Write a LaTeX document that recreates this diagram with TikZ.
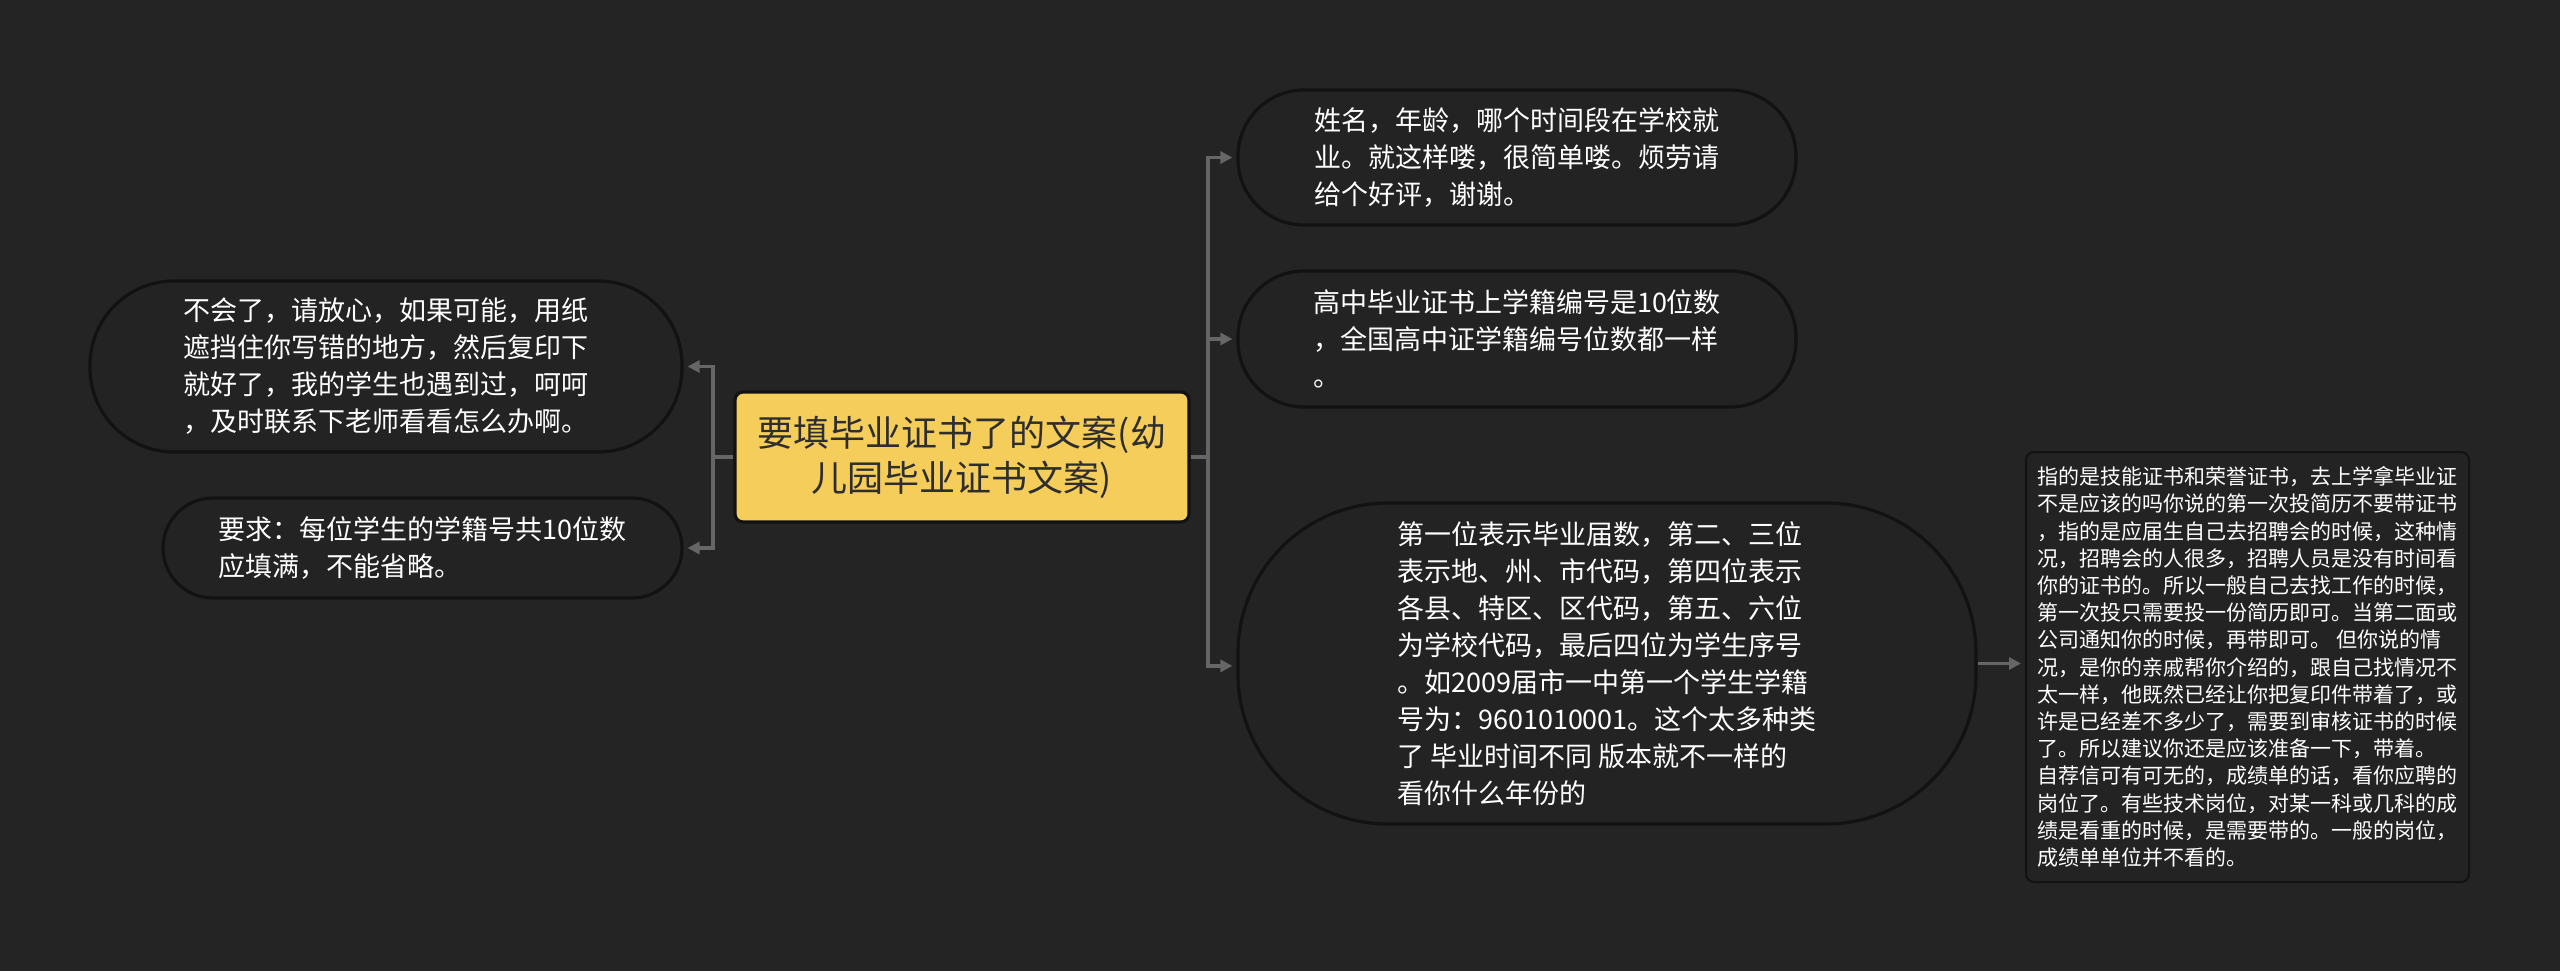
\documentclass[tikz,border=0pt]{standalone}
\usepackage{fontspec}
\newfontfamily\cjk{Noto Sans CJK SC}
\usetikzlibrary{arrows.meta}
\definecolor{bg}{HTML}{242424}
\definecolor{nodefill}{HTML}{232323}
\definecolor{nodeborder}{HTML}{121212}
\definecolor{conncol}{HTML}{666666}
\definecolor{rootfill}{HTML}{F5CD5B}
\definecolor{roottext}{HTML}{2E2E2E}
\begin{document}
\begin{tikzpicture}[x=0.5pt,y=-0.5pt,
  topic/.style={draw=nodeborder, line width=1.6pt, fill=nodefill, text=white,
    align=left, inner sep=0pt, font=\cjk\fontsize{13.5}{18.5}\selectfont},
  rootbox/.style={draw=nodeborder, line width=1.6pt, fill=rootfill, text=roottext,
    align=center, inner sep=0pt, rounded corners=4pt,
    minimum width=227pt, minimum height=65pt,
    font=\cjk\fontsize{18}{22.5}\selectfont},
  notebox/.style={draw=nodeborder, line width=1pt, fill=nodefill, text=white,
    align=left, inner sep=0pt, rounded corners=4pt,
    font=\cjk\fontsize{10.5}{13.6}\selectfont},
  conn/.style={draw=conncol, line width=1.6pt, -{Triangle[length=6pt,width=6pt]}, shorten >=2pt},
  plain/.style={draw=conncol, line width=1.6pt}
]
\useasboundingbox (0,0) rectangle (2560,971);
\fill[bg] (0,0) rectangle (2560,971);

\node[rootbox] (c) at (962,457) {要填毕业证书了的文案(幼\\儿园毕业证书文案)};

\node[topic, minimum width=296pt, minimum height=85.5pt, rounded corners=42pt] (l1) at (386,366.5)
  {不会了，请放心，如果可能，用纸\\遮挡住你写错的地方，然后复印下\\就好了，我的学生也遇到过，呵呵\\，及时联系下老师看看怎么办啊。};
\node[topic, minimum width=259.5pt, minimum height=50pt, rounded corners=25pt] (l2) at (422.5,548)
  {要求：每位学生的学籍号共10位数\\应填满，不能省略。};

\node[topic, minimum width=279pt, minimum height=67.5pt, rounded corners=33pt] (r1) at (1517,157.5)
  {姓名，年龄，哪个时间段在学校就\\业。就这样喽，很简单喽。烦劳请\\给个好评，谢谢。};
\node[topic, minimum width=279pt, minimum height=68pt, rounded corners=33pt] (r2) at (1517,339)
  {高中毕业证书上学籍编号是10位数\\，全国高中证学籍编号位数都一样\\。};
\node[topic, minimum width=369pt, minimum height=160.5pt, rounded corners=75pt] (r3) at (1607,663.5)
  {第一位表示毕业届数，第二、三位\\表示地、州、市代码，第四位表示\\各县、特区、区代码，第五、六位\\为学校代码，最后四位为学生序号\\。如2009届市一中第一个学生学籍\\号为：9601010001。这个太多种类\\了 毕业时间不同 版本就不一样的\\看你什么年份的};

\node[notebox, minimum width=221.5pt, minimum height=215pt] (f) at (2247.5,667)
  {指的是技能证书和荣誉证书，去上学拿毕业证\\不是应该的吗你说的第一次投简历不要带证书\\，指的是应届生自己去招聘会的时候，这种情\\况，招聘会的人很多，招聘人员是没有时间看\\你的证书的。所以一般自己去找工作的时候，\\第一次投只需要投一份简历即可。当第二面或\\公司通知你的时候，再带即可。 但你说的情\\况，是你的亲戚帮你介绍的，跟自己找情况不\\太一样，他既然已经让你把复印件带着了，或\\许是已经差不多少了，需要到审核证书的时候\\了。所以建议你还是应该准备一下，带着。\\自荐信可有可无的，成绩单的话，看你应聘的\\岗位了。有些技术岗位，对某一科或几科的成\\绩是看重的时候，是需要带的。一般的岗位，\\成绩单单位并不看的。};

\coordinate (jl) at (713,457);
\coordinate (jr) at (1208,457);

\draw[plain] (c.west) -- (jl);
\draw[conn] (jl) |- (l1.east);
\draw[conn] (jl) |- (l2.east);

\draw[plain] (c.east) -- (jr);
\draw[conn] (jr) |- (r1.west);
\draw[conn] (jr) |- (r2.west);
\draw[conn] (jr) |- ([yshift=-1.2pt]r3.west);

\draw[conn] (r3.east) -- (f.west |- r3.east);
\end{tikzpicture}
\end{document}
